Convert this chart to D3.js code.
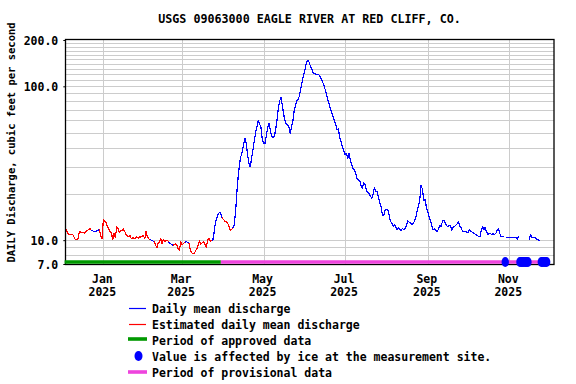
<!DOCTYPE html>
<html>
<head>
<meta charset="utf-8">
<script src="https://cdn.jsdelivr.net/npm/d3@7"></script>
<style>
  body { margin: 0; background: #fff; }
  svg { display: block; }
  text { font-family: "DejaVu Sans Mono", "Liberation Mono", monospace; font-weight: bold; fill: #000; }
</style>
</head>
<body>
<svg id="chart" width="576" height="384"></svg>
<script>
// ---------------- DATA ----------------
const chartTitle = "USGS 09063000 EAGLE RIVER AT RED CLIFF, CO.";
const yAxisTitle = "DAILY Discharge, cubic feet per second";

const xDomain = ["2024-12-03T12:00:00Z", "2025-12-04T12:00:00Z"];
const yDomain = [7, 200];

// daily mean discharge (cfs), one value per day starting at startDate; null = no value (ice)
const startDate = "2024-12-04";
const dec2024 = [11.8, 11.3, 10.9, 10.9, 10.9, 10.9, 10.5, 10.1, 10.1, 10.2, 11.3, 11.3, 11.2, 11.2, 11.1, 11.4, 11.6, 11.7, 11.9, 11.6, 11.5, 11.4, 11.4, 11.5, 11.5, 11.9, 10.6, 10.3];
const jan2025 = [13.6, 13.3, 13.0, 12.3, 11.8, 11.4, 11.2, 10.1, 11.1, 10.4, 12.2, 11.9, 11.2, 11.6, 11.5, 11.8, 11.4, 10.9, 10.6, 10.6, 10.7, 10.2, 10.4, 10.2, 10.3, 10.5, 10.3, 10.5, 10.5, 10.6, 10.7];
const feb2025 = [10.2, 11.4, 10.5, 10.2, 10.1, 10.0, 9.9, 9.8, 9.4, 8.9, 9.5, 9.7, 10.2, 9.5, 10.1, 9.8, 9.9, 10.0, 9.7, 9.5, 9.4, 9.3, 9.3, 9.5, 9.3, 8.8, 8.6, 9.8];
const mar2025 = [9.3, 9.5, 9.7, 9.8, 9.7, 9.6, 8.8, 8.3, 8.2, 8.2, 8.5, 8.8, 9.3, 9.9, 9.4, 9.6, 9.8, 9.4, 9.0, 9.9, 10.3, 9.8, 10.0, 10.0, 11.3, 13.2, 14.0, 14.8, 15.2, 14.8, 14.0];
const apr2025 = [13.6, 13.3, 13.2, 12.9, 12.4, 11.6, 11.7, 12.0, 12.5, 15.2, 20.5, 26, 31.5, 35, 37.5, 42, 45.8, 42.5, 36, 31.5, 30.0, 33.9, 38.5, 44, 50, 54, 60.3, 57, 54, 45.5];
const may2025 = [42.8, 42.5, 47.5, 53.5, 57.4, 52.5, 47.5, 46.5, 47.0, 52, 60, 72, 80, 84.8, 75.9, 66, 60, 57, 56, 54, 49.4, 55, 60, 70, 76, 80.5, 82, 88, 98, 108, 118.6];
const jun2025 = [128, 142, 148, 144, 136, 130, 123, 121, 120, 120, 120, 117, 112.5, 107.5, 102.5, 96, 89, 82.5, 77, 72, 67.5, 63.5, 59.5, 56.5, 52, 53, 46.5, 43.5, 40.5, 38];
const jul2025 = [36.0, 36.7, 34.0, 36.7, 33.1, 30.8, 29.3, 28.6, 27, 25.2, 24.5, 24.3, 22.6, 21.6, 23.7, 23.0, 21.0, 20.5, 20.0, 19.4, 18.7, 19.8, 22.0, 20.6, 20.8, 19.1, 17.6, 16.5, 14.6, 14.5, 15.7];
const aug2025 = [15.8, 15.7, 14.5, 13.3, 12.9, 12.3, 12.6, 12.2, 11.7, 12.1, 11.7, 11.6, 11.9, 11.7, 11.9, 12.4, 13.4, 13.1, 12.9, 12.6, 12.8, 13.3, 14.1, 15.5, 16.7, 18.5, 22.8, 21.3, 18.0, 18.4, 16.2];
const sep2025 = [15.3, 14.1, 13.3, 12.4, 11.7, 11.8, 11.5, 11.4, 11.8, 12.4, 12.3, 13.3, 13.5, 12.9, 12.4, 12.3, 12.5, 12.4, 11.6, 12.2, 12.3, 12.5, 12.8, 13.1, 12.3, 12.0, 11.4, 11.4, 11.4, 11.3];
const oct2025 = [11.2, 11.7, 11.4, 11.3, 11.2, 11.0, 10.9, 10.7, 10.6, 10.5, 11.6, 12.2, 11.7, 12.1, 11.3, 10.9, 11.1, 11.0, 10.9, 11.0, 10.9, 11.1, 11.6, 11.9, 11.0, 10.5, 10.6, 10.5, null, 10.5, 10.4];
const nov2025 = [10.4, 10.4, 10.4, 10.4, 10.4, 10.4, 10.1, 10.6, null, null, null, null, null, null, null, 10.1, 10.9, 10.4, 10.4, 10.4, 10.3, 10.1, 10.0, 9.95];

// periods where values are estimated (inclusive)
const estimatedPeriods = [
  ["2024-12-04", "2024-12-22"],
  ["2024-12-30", "2025-02-04"],
  ["2025-02-09", "2025-02-18"],
  ["2025-02-23", "2025-03-02"],
  ["2025-03-07", "2025-03-22"],
  ["2025-04-01", "2025-04-07"]
];

// days with values affected by ice
const iceDates = ["2025-10-29", "2025-11-09", "2025-11-10", "2025-11-11", "2025-11-12", "2025-11-13", "2025-11-14", "2025-11-15",
                  "2025-11-25", "2025-11-26", "2025-11-27", "2025-11-28", "2025-11-29"];

const approvedPeriod = ["2024-12-03", "2025-03-30"];
const provisionalPeriod = ["2025-03-30", "2025-11-30"];

const yTickValues = [7, 10, 100, 200];
const yTickLabels = ["7.0", "10.0", "100.0", "200.0"];
const yGridValues = [8, 9, 10, 20, 30, 40, 50, 60, 70, 80, 90, 100, 110, 120, 130, 140, 150, 160, 170, 180, 190];

const xTickDates = ["2025-01-01", "2025-03-01", "2025-05-01", "2025-07-01", "2025-09-01", "2025-11-01"];
const xTickMonths = ["Jan", "Mar", "May", "Jul", "Sep", "Nov"];
const xTickYears = ["2025", "2025", "2025", "2025", "2025", "2025"];

const legendLabels = ["Daily mean discharge", "Estimated daily mean discharge", "Period of approved data",
                      "Value is affected by ice at the measurement site.", "Period of provisional data"];

// ---------------- STYLE ----------------
const colors = { daily: "#0000FF", est: "#FF0000", approved: "#009900", provisional: "#EE44DD", ice: "#0000FF", grid: "#CCCCCC" };
const plot = { left: 65.3, right: 554, top: 40, bottom: 264 };

// ---------------- CHART ----------------
const svg = d3.select("#chart");
svg.append("rect").attr("width", 576).attr("height", 384).attr("fill", "#fff");

const parse = d3.utcParse("%Y-%m-%d");
const x = d3.scaleUtc().domain(xDomain.map(d => new Date(d))).range([plot.left, plot.right]);
const y = d3.scaleLog().domain(yDomain).range([plot.bottom, plot.top]);

// grid
const grid = svg.append("g").attr("shape-rendering", "crispEdges");
grid.selectAll("line.h").data(yGridValues).join("line")
  .attr("x1", plot.left).attr("x2", plot.right)
  .attr("y1", d => Math.round(y(d)) + 0.5).attr("y2", d => Math.round(y(d)) + 0.5)
  .attr("stroke", colors.grid).attr("stroke-width", 1);
grid.selectAll("line.v").data(xTickDates).join("line")
  .attr("x1", d => Math.round(x(parse(d))) + 0.5).attr("x2", d => Math.round(x(parse(d))) + 0.5)
  .attr("y1", plot.top).attr("y2", plot.bottom)
  .attr("stroke", colors.grid).attr("stroke-width", 1);

// data points
const allValues = [].concat(dec2024, jan2025, feb2025, mar2025, apr2025, may2025, jun2025, jul2025, aug2025, sep2025, oct2025, nov2025);
const t0 = parse(startDate);
const estRanges = estimatedPeriods.map(([a, b]) => [parse(a), parse(b)]);
const pts = allValues.map((v, i) => {
  const date = d3.utcDay.offset(t0, i);
  return { date, v, est: estRanges.some(([a, b]) => date >= a && date <= b) };
});
const runs = [];
let cur = null;
for (let i = 1; i < pts.length; i++) {
  const a = pts[i - 1], b = pts[i];
  if (a.v == null || b.v == null) { cur = null; continue; }
  const kind = (a.est || b.est) ? "est" : "daily";
  if (cur && cur.kind === kind) cur.pts.push(b);
  else { cur = { kind, pts: [a, b] }; runs.push(cur); }
}
const line = d3.line().x(d => x(d.date)).y(d => y(d.v));
svg.append("g").attr("shape-rendering", "crispEdges").selectAll("path").data(runs).join("path")
  .attr("d", d => line(d.pts))
  .attr("fill", "none")
  .attr("stroke", d => colors[d.kind])
  .attr("stroke-width", 1.2)
  .attr("stroke-linejoin", "round");

// frame
svg.append("rect")
  .attr("x", 65.5).attr("y", 39.5).attr("width", 554 - 65.5).attr("height", 264.5 - 39.5)
  .attr("fill", "none").attr("stroke", "#000").attr("stroke-width", 1.3);

// period bars
const barY = 262;
svg.append("line")
  .attr("x1", x(parse(approvedPeriod[0]))).attr("x2", x(parse(approvedPeriod[1])))
  .attr("y1", barY).attr("y2", barY).attr("stroke", colors.approved).attr("stroke-width", 3.6);
svg.append("line")
  .attr("x1", x(parse(provisionalPeriod[0]))).attr("x2", x(parse(provisionalPeriod[1])))
  .attr("y1", barY).attr("y2", barY).attr("stroke", colors.provisional).attr("stroke-width", 3.6);

// ice markers
svg.append("g").selectAll("ellipse").data(iceDates).join("ellipse")
  .attr("cx", d => x(parse(d))).attr("cy", barY)
  .attr("rx", 3.7).attr("ry", 5).attr("fill", colors.ice);

// y axis labels
const yAxis = d3.axisLeft(y).tickValues(yTickValues)
  .tickFormat((d, i) => yTickLabels[i]).tickSize(2).tickPadding(5);
const gy = svg.append("g").attr("transform", `translate(${plot.left},0)`).call(yAxis);
gy.select(".domain").remove();
gy.selectAll("line").attr("stroke", "#000");
gy.selectAll("text").attr("font-size", "11.5px").attr("font-family", null).attr("dy", "0.35em");

// x axis labels
const xAxis = d3.axisBottom(x).tickValues(xTickDates.map(parse)).tickSize(0).tickFormat("");
const gx = svg.append("g").attr("transform", `translate(0,${plot.bottom})`).call(xAxis);
gx.select(".domain").remove();
const gxl = svg.append("g");
xTickDates.forEach((d, i) => {
  const cx = x(parse(d)) - 1;
  gxl.append("text").attr("x", cx).attr("y", 282.5).attr("text-anchor", "middle")
    .attr("font-size", "11.5px").text(xTickMonths[i]);
  gxl.append("text").attr("x", cx).attr("y", 295.5).attr("text-anchor", "middle")
    .attr("font-size", "11.5px").text(xTickYears[i]);
});

// title
svg.append("text").attr("x", 309.5).attr("y", 23).attr("text-anchor", "middle")
  .attr("font-size", "11.7px").text(chartTitle);

// y title
svg.append("text").attr("transform", "translate(15,142.5) rotate(-90)")
  .attr("text-anchor", "middle").attr("font-size", "10.5px").text(yAxisTitle);

// legend
const lg = svg.append("g");
const legX1 = 129, legX2 = 146, legTextX = 152;
const rowY = [308.5, 324.5, 339, 356, 372];
const rowBase = [313, 329, 345, 361, 377];
lg.append("line").attr("x1", legX1).attr("x2", legX2).attr("y1", rowY[0]).attr("y2", rowY[0])
  .attr("stroke", colors.daily).attr("stroke-width", 1.2);
lg.append("line").attr("x1", legX1).attr("x2", legX2).attr("y1", rowY[1]).attr("y2", rowY[1])
  .attr("stroke", colors.est).attr("stroke-width", 1.2);
lg.append("line").attr("x1", 128).attr("x2", 147).attr("y1", rowY[2]).attr("y2", rowY[2])
  .attr("stroke", colors.approved).attr("stroke-width", 3.6);
lg.append("ellipse").attr("cx", 138.5).attr("cy", rowY[3]).attr("rx", 4).attr("ry", 5).attr("fill", colors.ice);
lg.append("line").attr("x1", 128).attr("x2", 147).attr("y1", rowY[4]).attr("y2", rowY[4])
  .attr("stroke", colors.provisional).attr("stroke-width", 3.6);
legendLabels.forEach((t, i) => {
  lg.append("text").attr("x", legTextX).attr("y", rowBase[i]).attr("font-size", "11.5px").text(t);
});
</script>
</body>
</html>
